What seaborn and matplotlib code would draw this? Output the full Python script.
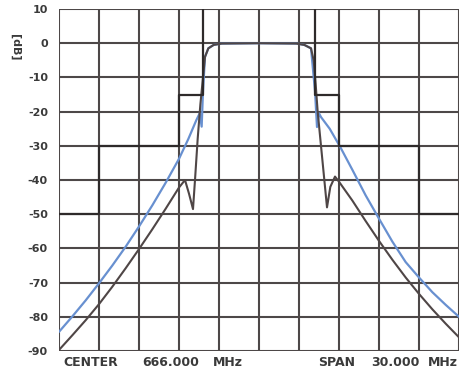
import numpy as np
import pandas as pd
import matplotlib
matplotlib.use("Agg")
import matplotlib.pyplot as plt
import seaborn as sns

# filter response with trap (grey)
freq_trap = [651.0, 652.0, 653.0, 654.0, 655.0, 656.0, 657.0, 658.0, 659.0, 660.0,
             660.45, 660.75, 661.05, 661.2, 661.4, 661.6, 661.8, 661.95, 662.2, 662.6,
             663.2, 666.0, 668.8, 669.4, 669.9, 670.1, 670.25, 670.4, 670.7, 671.1,
             671.35, 671.7, 672.0, 673.0, 674.0, 675.0, 676.0, 677.0, 678.0, 679.0,
             680.0, 681.0]
db_trap = [-89.7, -85.4, -81, -76.3, -71.2, -65.8, -60.2, -54.4, -48.4, -42.2,
           -40, -44, -48.5, -40, -28, -18, -10, -4, -1.5, -0.5,
           -0.1, 0, -0.1, -0.5, -1.5, -5, -12, -20, -32, -48,
           -42, -39, -40.5, -46, -52, -57.8, -63.3, -68.5, -73.3, -77.8,
           -82, -86]

# filter response without trap (blue)
freq_plain = [651.0, 652.0, 653.0, 654.0, 655.0, 656.0, 657.0, 658.0, 659.0, 660.0,
              660.7, 661.3, 661.55, 661.7, 661.8, 661.95, 662.2, 662.6, 663.2, 666.0,
              668.8, 669.4, 669.9, 670.2, 670.35, 670.5, 670.65, 671.3, 672.1, 673.0,
              674.0, 675.0, 676.0, 677.0, 678.0, 679.0, 680.0, 681.0]
db_plain = [-84.4, -79.9, -75.2, -70.2, -65, -59.5, -53.6, -47.4, -40.8, -33.8,
            -28, -22.5, -20.5, -24.4, -14, -4, -1.5, -0.5, -0.1, 0,
            -0.1, -0.5, -1.5, -14, -24.5, -20.5, -21.6, -25, -30.4, -37,
            -44.5, -51.3, -58, -64, -68.5, -72.8, -76.5, -80]

# emission mask
mask_left_f = [651, 654, 654, 660, 660, 661.8, 661.8]
mask_left_db = [-50, -50, -30, -30, -15, -15, 12]
mask_right_f = [670.2, 670.2, 672, 672, 678, 678, 681]
mask_right_db = [12, -15, -15, -30, -30, -50, -50]

y_ticks = list(range(-90, 11, 10))
x_ticks = list(range(651, 682, 3))

sns.set_style("white")
plt.rcParams["font.family"] = ["Liberation Sans", "DejaVu Sans"]

fig = plt.figure(figsize=(4.61, 3.72), dpi=100)
ax = fig.add_axes([59 / 461, 1 - 351 / 372, 400 / 461, 342 / 372])

grid_col = "#4d4848"
for x in x_ticks:
    ax.axvline(x, color=grid_col, lw=1.5, zorder=1)
for y in y_ticks:
    ax.axhline(y, color=grid_col, lw=1.5, zorder=1)

plain = pd.DataFrame({"f": freq_plain, "db": db_plain})
trap = pd.DataFrame({"f": freq_trap, "db": db_trap})
sns.lineplot(data=plain, x="f", y="db", ax=ax, color="#6890d0", lw=1.6,
             sort=False, estimator=None, zorder=3)
sns.lineplot(data=trap, x="f", y="db", ax=ax, color="#4f4646", lw=1.5,
             sort=False, estimator=None, zorder=4)
sns.lineplot(x=mask_left_f, y=mask_left_db, ax=ax, color="#2e2a2a", lw=1.6,
             sort=False, estimator=None, zorder=5)
sns.lineplot(x=mask_right_f, y=mask_right_db, ax=ax, color="#2e2a2a", lw=1.6,
             sort=False, estimator=None, zorder=5)

ax.set_xlim(651, 681)
ax.set_ylim(-90, 10)
ax.set_xticks(x_ticks)
ax.set_xticklabels([])
ax.set_yticks(y_ticks)
ax.set_yticklabels([str(v) for v in y_ticks], fontsize=8, fontweight="bold",
                   color="#3a3a3a", family="DejaVu Sans")
ax.tick_params(length=0, pad=8)
ax.set_xlabel("")
ax.set_ylabel("")
for s in ax.spines.values():
    s.set_visible(False)

fig.text(15 / 461, 1 - 47 / 372, "[dB]", rotation=-90, ha="center", va="center",
         fontsize=8, fontweight="bold", color="#3a3a3a", family="DejaVu Sans")

bottom_y = 1 - 362 / 372
txt_kw = dict(fontsize=9, fontweight="bold", color="#3a3a3a", va="center",
              ha="left", family="DejaVu Sans")
fig.text(63 / 461, bottom_y, "CENTER", **txt_kw)
fig.text(142 / 461, bottom_y, "666.000", **txt_kw)
fig.text(213 / 461, bottom_y, "MHz", **txt_kw)
fig.text(318 / 461, bottom_y, "SPAN", **txt_kw)
fig.text(371 / 461, bottom_y, "30.000", **txt_kw)
fig.text(458 / 461, bottom_y, "MHz", **dict(txt_kw, ha="right"))

fig.savefig("out.png", dpi=100)
